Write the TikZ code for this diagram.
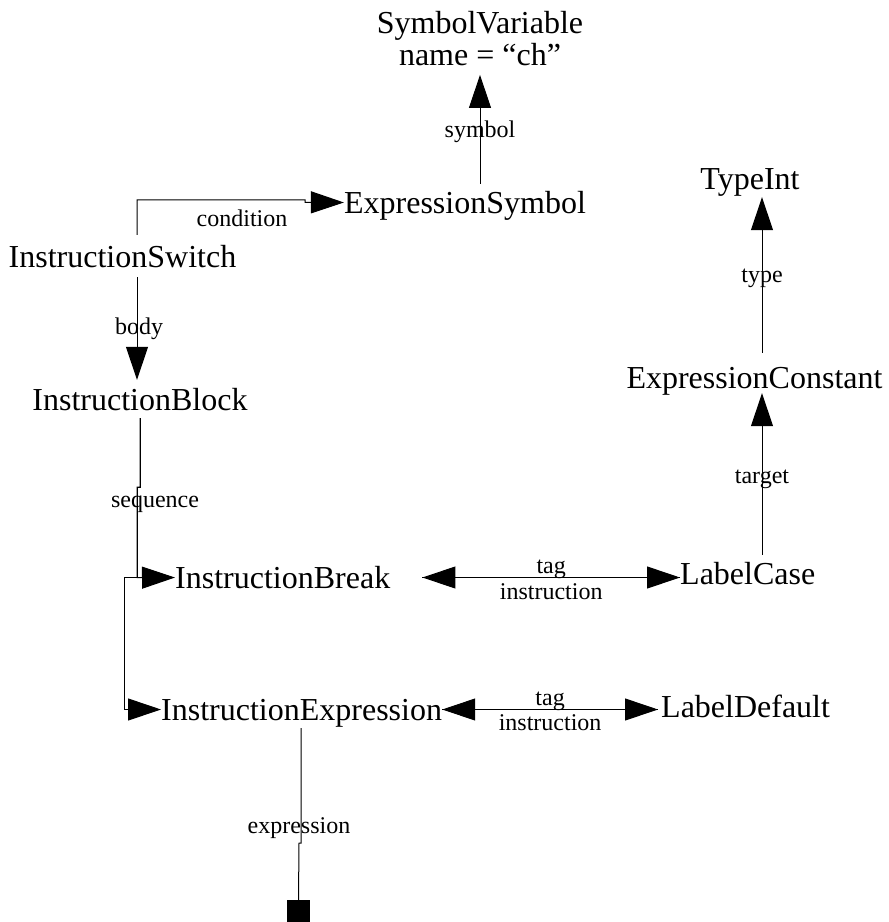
\documentclass[tikz,border=0pt]{standalone}
\usepackage{fontspec}
\setmainfont{Liberation Serif}
\usetikzlibrary{arrows.meta,calc}
\begin{document}
\begin{tikzpicture}[x=1pt,y=-1pt,
  big/.style={font=\fontsize{32}{32}\selectfont, inner sep=0pt, text height=21pt, text depth=0pt},
  lab/.style={font=\fontsize{24}{24}\selectfont, inner sep=0pt, anchor=base},
  conn/.style={line width=1pt, draw=black},
  arr/.style={conn, -{Triangle[length=33pt,width=22pt]}}]
\useasboundingbox (0,0) rectangle (889,922);

% nodes
\node[font=\fontsize{32}{32}\selectfont, inner sep=0pt, align=center, anchor=north] (sv) at (480,11) {SymbolVariable\\name = “ch”};
\node[big, anchor=base] (es) at (465,213) {ExpressionSymbol};
\node[big, anchor=base] (is) at (122.5,267) {InstructionSwitch};
\node[big, anchor=base] (ib) at (140,410) {InstructionBlock};
\node[big, anchor=base west] (ibr) at (175,588) {InstructionBreak};
\node[big, anchor=base west] (ie) at (161,720) {InstructionExpression};
\node[big, anchor=base west] (lc) at (680,584) {LabelCase};
\node[big, anchor=base west] (ld) at (661,717) {LabelDefault};
\node[big, anchor=base] (ec) at (754.5,388) {ExpressionConstant};
\node[big, anchor=base] (ti) at (750,189) {TypeInt};
\node[fill=black, minimum size=23pt, inner sep=0pt] (nul) at (298.5,911.5) {};

% symbol
\draw[arr] ($(sv.south |- es.north)+(0,-8)$) -- node[lab, pos=0.427]{symbol} ($(sv.south)+(0,9)$);
% condition
\draw[arr] ($(is.north)+(14.5,-11)$) -- ++(0,-35) -- node[lab, pos=0.625, yshift=-27pt]{condition} ++(168,0) -- ++(0,2.5) -- (es.west);
% body
\draw[arr] ($(is.south)+(14.5,10)$) -- node[lab, pos=0.563, xshift=2pt]{body} ($(ib.north)+(-3,-9)$);
% sequence
\draw[arr] ($(ib.south)+(0,8)$) -- ++(0,69) -- ++(-3,0) -- node[lab, pos=0.22, xshift=18pt]{sequence} ++(0,90.5) -- (ibr.west);
\draw[arr] ($(ib.south)+(0,8)$) -- ++(0,69) -- ++(-3,0) -- ++(0,90.5) -- ++(-13,0) |- (ie.west);
% tag / instruction
\draw[arr] ($(ibr.east)+(32,0)$) -- node[lab, pos=0.5, yshift=4.5pt]{tag} (ibr.east -| lc.west);
\draw[arr] (ibr.east -| lc.west) -- node[lab, pos=0.5, yshift=-21.5pt]{instruction} ($(ibr.east)+(32,0)$);
\draw[arr] (ie.east) -- node[lab, pos=0.5, yshift=4.5pt]{tag} ($(ie.east -| ld.west)+(-3,0)$);
\draw[arr] ($(ie.east -| ld.west)+(-3,0)$) -- node[lab, pos=0.5, yshift=-20.5pt]{instruction} (ie.east);
% target
\draw[arr] ($(ec.south |- lc.north)+(7.5,-8)$) -- node[lab, pos=0.444]{target} ($(ec.south)+(7.5,5)$);
% type
\draw[arr] ($(ec.north)+(7.5,-14)$) -- node[lab, pos=0.449]{type} ($(ti.south -| ec.north)+(7.5,8)$);
% expression
\draw[conn] ($(nul.north |- ie.south)+(2.5,8)$) -- node[lab, pos=0.913, xshift=-2pt]{expression} ++(0,115) -- ++(-2,0) -- (nul.north);
\end{tikzpicture}
\end{document}
